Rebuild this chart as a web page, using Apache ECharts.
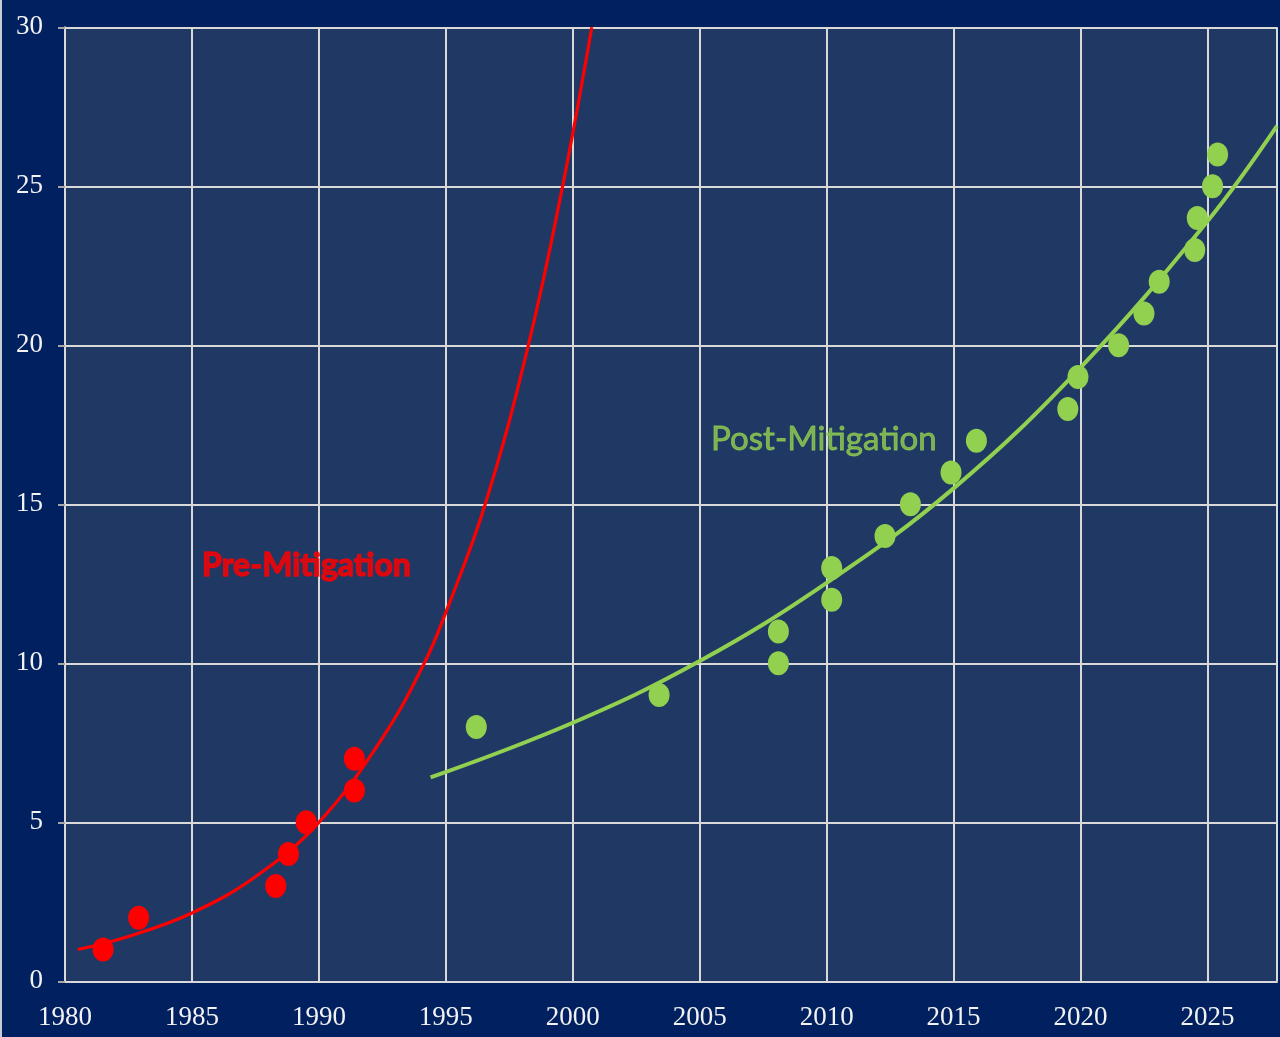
<!DOCTYPE html>
<html>
<head>
<meta charset="utf-8">
<style>
  html, body { margin: 0; padding: 0; background: #002060; }
  #chart { width: 1280px; height: 1037px; }
</style>
<script src="https://cdn.jsdelivr.net/npm/echarts@6/dist/echarts.min.js"></script>
</head>
<body>
<div id="chart"></div>
<script>
// ---- data ----
const xTicks = [1980, 1985, 1990, 1995, 2000, 2005, 2010, 2015, 2020, 2025];
const yTicks = [0, 5, 10, 15, 20, 25, 30];

// Pre-mitigation observations [year, value]
const preYears  = [1981.5, 1982.9, 1988.3, 1988.8, 1989.5, 1991.4, 1991.4];
const preValues = [1, 2, 3, 4, 5, 6, 7];

// Post-mitigation observations [year, value]
const postYears  = [1996.2, 2003.4, 2008.1, 2008.1, 2010.2, 2010.2, 2012.3, 2013.3, 2014.9, 2015.9,
                    2019.5, 2019.9, 2021.5, 2022.5, 2023.1, 2024.5, 2024.6, 2025.2, 2025.4];
const postValues = [8, 9, 10, 11, 12, 13, 14, 15, 16, 17,
                    18, 19, 20, 21, 22, 23, 24, 25, 26];

// Trend curves
const preTrendYears   = [1980.5, 1982.5, 1985, 1987.5, 1990, 1992.5, 1994.15, 1995, 1996.55, 1998.25, 1999.6, 2000.75];
const preTrendValues  = [1.0, 1.41, 2.15, 3.29, 5.0, 7.65, 10.0, 11.6, 15.0, 20.0, 25.0, 30.0];
const postTrendYears  = [1994.4, 2000, 2005, 2010, 2015, 2020, 2025, 2027.74];
const postTrendValues = [6.41, 8.13, 10.07, 12.53, 15.5, 19.3, 23.9, 26.9];

// Annotation labels
const labelTexts  = ['Pre-Mitigation', 'Post-Mitigation'];
const labelAnchor = [[1985.4, 13.06], [2005.45, 17.04]];

const xMin = 1980, xMax = 2027.74, yMin = 0, yMax = 30;

const zip = (a, b) => a.map((v, i) => [v, b[i]]);

const chart = echarts.init(document.getElementById('chart'), null, { renderer: 'canvas' });

const gridColor = '#D9D9D9';
const serif = '"Liberation Serif", "Times New Roman", serif';
const sans = 'Lato, "Open Sans", "Noto Sans", sans-serif';

chart.setOption({
  backgroundColor: '#002060',
  animation: false,
  graphic: [{
    type: 'rect', left: 0, top: 0, shape: { width: 2, height: 1037 },
    style: { fill: '#C8CCD6' }, silent: true
  }],
  grid: {
    left: 65, right: 0, top: 27.3, bottom: 55.7,
    show: true, backgroundColor: '#203864', borderWidth: 0
  },
  xAxis: {
    type: 'value', min: xMin, max: xMax, interval: 5,
    axisLine: { show: true, onZero: false, lineStyle: { color: gridColor, width: 2 } },
    axisTick: { show: false },
    splitLine: { show: true, lineStyle: { color: gridColor, width: 2 } },
    axisLabel: {
      margin: 23, color: '#F2F2F2', fontFamily: serif, fontSize: 27,
      formatter: v => xTicks.indexOf(v) >= 0 ? String(v) : ''
    }
  },
  yAxis: {
    type: 'value', min: yMin, max: yMax, interval: 5,
    axisLine: { show: true, lineStyle: { color: gridColor, width: 2 } },
    axisTick: { show: true, length: 7, lineStyle: { color: '#A6A6A6', width: 2 } },
    splitLine: { show: true, lineStyle: { color: gridColor, width: 2 } },
    axisLabel: {
      margin: 22, color: '#F2F2F2', fontFamily: serif, fontSize: 27,
      formatter: v => yTicks.indexOf(v) >= 0 ? String(v) : ''
    }
  },
  series: [
    {
      type: 'line', data: zip(preTrendYears, preTrendValues), smooth: 0.4,
      showSymbol: false, clip: true, silent: true,
      lineStyle: { color: '#FF0000', width: 3.2 }
    },
    {
      type: 'line', data: zip(postTrendYears, postTrendValues), smooth: 0.4,
      showSymbol: false, clip: true, silent: true,
      lineStyle: { color: '#92D050', width: 4 }
    },
    {
      type: 'scatter', data: zip(preYears, preValues), symbol: 'circle', symbolSize: [21, 24],
      itemStyle: { color: '#FF0000', opacity: 1 }
    },
    {
      type: 'scatter', data: zip(postYears, postValues), symbol: 'circle', symbolSize: [21, 24],
      itemStyle: { color: '#92D050', opacity: 1 }
    },
    {
      type: 'scatter', data: [labelAnchor[0]], symbolSize: 0, silent: true,
      label: {
        show: true, position: 'right', distance: 0, formatter: labelTexts[0],
        color: '#FF0000', fontFamily: sans, fontWeight: 'bold', fontSize: 32,
        textBorderColor: '#FF0000', textBorderWidth: 1.4
      }
    },
    {
      type: 'scatter', data: [labelAnchor[1]], symbolSize: 0, silent: true,
      label: {
        show: true, position: 'right', distance: 0, formatter: labelTexts[1],
        color: '#92D050', fontFamily: sans, fontWeight: 'normal', fontSize: 33,
        textBorderColor: '#92D050', textBorderWidth: 0.8
      }
    }
  ]
});
</script>
</body>
</html>
